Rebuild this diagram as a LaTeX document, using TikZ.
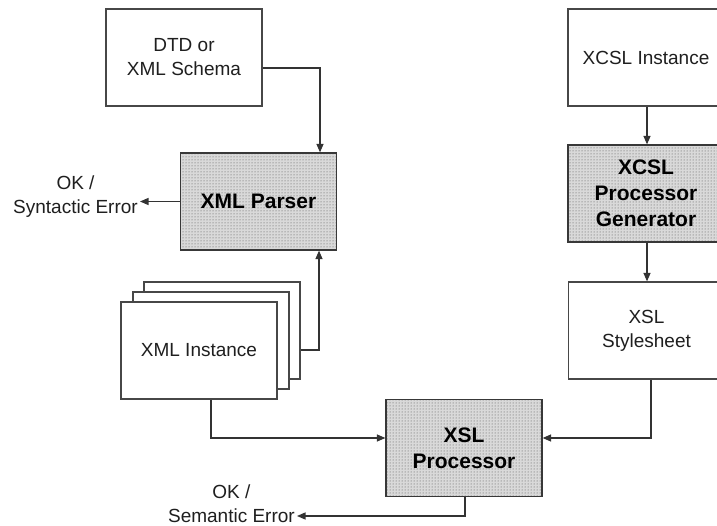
\documentclass[tikz,border=0pt]{standalone}
\usepackage{fontspec}
\setmainfont{Liberation Sans}
\usetikzlibrary{patterns,arrows.meta,calc}
\begin{document}
\begin{tikzpicture}[x=1pt,y=-1pt,
  box/.style={draw=black!72,line width=1.2pt,fill=white,minimum width=156pt,minimum height=97pt,align=center,inner sep=0pt,
    font=\fontsize{19}{24}\selectfont,text=black!88},
  shaded/.style={box,draw=black!78,preaction={fill=gray!30},pattern=dots,pattern color=black!70,
    font=\fontsize{21}{26}\selectfont\bfseries,text=black},
  lbl/.style={align=center,inner sep=2pt,font=\fontsize{19}{24}\selectfont,text=black!88},
  conn/.style={draw=black!80,line width=1.2pt},
  arr/.style={conn,-{Triangle[length=8.5pt,width=7pt]}}]
\path[use as bounding box,clip] (0,0) rectangle (717,526);
\fill[white] (0,0) rectangle (717,526);
% left column
\node[box] (dtd) at (184,57.5) {DTD or\\XML Schema};
\node[shaded] (parser) at (258.5,201.5) {XML Parser};
\node[box] (inst3) at (222,330.5) {};
\node[box] (inst2) at (211,340.5) {};
\node[box] (inst1) at (199,350.5) {XML Instance};
\node[shaded] (proc) at (464,448) {XSL\\Processor};
% right column
\node[box] (xcsl) at (646,57.5) {XCSL Instance};
\node[shaded] (gen) at (646,193.5) {XCSL\\Processor\\Generator};
\node[box] (xsl) at (646.5,330.5) {XSL\\Stylesheet};
% labels
\node[lbl,anchor=east] (syn) at (140,196.5) {OK /\\Syntactic Error};
\node[lbl,anchor=east] (sem) at (297,503.5) {OK /\\Semantic Error};
% connectors
\draw[arr] (dtd.east |- 0,68) -| (parser.north -| 320,0);
\draw[arr] (parser.west) -- (syn.east |- parser.west);
\draw[arr] (inst3.east |- 0,350) -| (parser.south -| 319,0);
\draw[arr] (inst1.south -| 211,0) |- (proc.west |- 0,438);
\draw[arr] (xsl.south -| 651,0) |- (proc.east |- 0,438);
\draw[arr] (proc.south -| 465,0) |- (sem.east |- 0,516);
\draw[arr] (xcsl.south -| 647,0) -- (gen.north -| 647,0);
\draw[arr] (gen.south -| 647,0) -- (xsl.north -| 647,0);
\end{tikzpicture}
\end{document}
